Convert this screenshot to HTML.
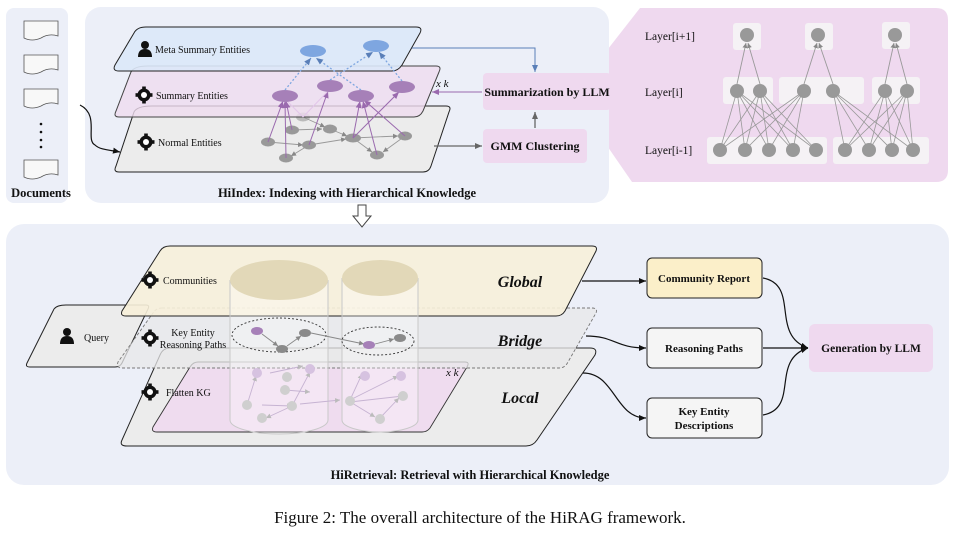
<!DOCTYPE html>
<html><head><meta charset="utf-8"><style>
body{margin:0;background:#fff;width:961px;height:535px;overflow:hidden}
svg{display:block}
text{font-family:"Liberation Serif",serif;fill:#111}
.b{font-weight:bold}
</style></head><body>
<svg width="961" height="535" viewBox="0 0 961 535" xmlns="http://www.w3.org/2000/svg">
<defs>
<marker id="ak" markerWidth="8" markerHeight="8" refX="7" refY="4" orient="auto" markerUnits="userSpaceOnUse"><path d="M0,1 L7,4 L0,7 z" fill="#111"/></marker>
<marker id="ag" markerWidth="8" markerHeight="8" refX="7" refY="4" orient="auto" markerUnits="userSpaceOnUse"><path d="M0,1 L7,4 L0,7 z" fill="#666"/></marker>
<marker id="ap" markerWidth="8" markerHeight="8" refX="7" refY="4" orient="auto" markerUnits="userSpaceOnUse"><path d="M0,1 L7,4 L0,7 z" fill="#9a6aae"/></marker>
<marker id="ab" markerWidth="8" markerHeight="8" refX="7" refY="4" orient="auto" markerUnits="userSpaceOnUse"><path d="M0,1 L7,4 L0,7 z" fill="#5a7fb8"/></marker>
<marker id="as" markerWidth="6" markerHeight="6" refX="5" refY="3" orient="auto" markerUnits="userSpaceOnUse"><path d="M0,0.5 L5,3 L0,5.5 z" fill="#888"/></marker>
<marker id="asl" markerWidth="6" markerHeight="6" refX="5" refY="3" orient="auto" markerUnits="userSpaceOnUse"><path d="M0,0.5 L5,3 L0,5.5 z" fill="#bbb"/></marker>
<g id="gear"><circle r="6.5" fill="#111"/><circle r="3" fill="#fff"/><g fill="#111"><rect x="-1.8" y="-8.5" width="3.6" height="3"/><rect x="-1.8" y="5.5" width="3.6" height="3"/><rect x="-8.5" y="-1.8" width="3" height="3.6"/><rect x="5.5" y="-1.8" width="3" height="3.6"/></g></g>
<g id="person"><circle cy="-4" r="4" fill="#111"/><path d="M-7,8 Q-7,0 0,0 Q7,0 7,8 z" fill="#111"/></g>
<g id="doc"><path d="M0,0 H34 V15 Q25,12 17,17 Q8,21 0,17 z" fill="#f8f8f8" stroke="#555" stroke-width="0.8"/></g>
</defs>

<!-- pink layer panel -->
<path d="M640,8 H936 Q948,8 948,20 V170 Q948,182 936,182 H632 L572,95 z" fill="#efd9ef"/>
<!-- Documents panel -->
<rect x="6" y="8" width="62" height="195" rx="8" fill="#eceff8"/>
<!-- HiIndex panel -->
<rect x="85" y="7" width="524" height="196" rx="16" fill="#eceff8"/>
<!-- bottom panel -->
<rect x="6" y="224" width="943" height="261" rx="18" fill="#eceff8"/>

<!-- documents -->
<use href="#doc" x="24" y="21"/><use href="#doc" x="24" y="55"/><use href="#doc" x="24" y="89"/><use href="#doc" x="24" y="160"/>
<g fill="#111"><circle cx="41" cy="124" r="1.3"/><circle cx="41" cy="132" r="1.3"/><circle cx="41" cy="140" r="1.3"/><circle cx="41" cy="147" r="1.3"/></g>
<text x="41" y="197" font-size="12.5" class="b" text-anchor="middle">Documents</text>
<path d="M80,105 C100,115 85,140 95,145 C100,150 110,150 120,152" fill="none" stroke="#111" stroke-width="1.2" marker-end="url(#ak)"/>

<!-- top layers -->
<path d="M152,106 H446 Q452,106 449,112 L431,166 Q429,172 423,172 H119 Q113,172 116,166 L134,112 Q137,106 152,106 z" fill="#ececec" stroke="#222" stroke-width="1"/>
<!-- normal edges gray -->
<g stroke="#999" stroke-width="0.9" fill="none" marker-end="url(#as)">
<line x1="268" y1="142" x2="303" y2="145"/><line x1="292" y1="130" x2="322" y2="129"/><line x1="303" y1="117" x2="325" y2="127"/>
<line x1="309" y1="145" x2="346" y2="139"/><line x1="309" y1="145" x2="291" y2="156"/><line x1="330" y1="129" x2="347" y2="136"/>
<line x1="353" y1="138" x2="398" y2="136"/><line x1="353" y1="138" x2="372" y2="152"/><line x1="405" y1="136" x2="383" y2="152"/>
</g>
<g fill="#999"><ellipse cx="268" cy="142" rx="7" ry="4.5"/><ellipse cx="286" cy="158" rx="7" ry="4.5"/><ellipse cx="292" cy="130" rx="7" ry="4.5"/><ellipse cx="309" cy="145" rx="7" ry="4.5"/><ellipse cx="330" cy="129" rx="7" ry="4.5"/><ellipse cx="353" cy="138" rx="8" ry="4.5"/><ellipse cx="377" cy="155" rx="7" ry="4.5"/><ellipse cx="405" cy="136" rx="7" ry="4.5"/><ellipse cx="303" cy="117" rx="7" ry="4.5" opacity="0.6"/></g>
<text x="158" y="146" font-size="10">Normal Entities</text>
<use href="#gear" x="146" y="142"/>

<path d="M148,66 H436 Q442,66 439,72 L423,111 Q420,117 414,117 H119 Q113,117 116,111 L131,72 Q134,66 148,66 z" fill="#efdcef" fill-opacity="0.8" stroke="#444" stroke-width="1"/>
<!-- purple edges -->
<g stroke="#9a6aae" stroke-width="1" fill="none" marker-end="url(#ap)" >
<line x1="268" y1="142" x2="283" y2="101"/><line x1="286" y1="158" x2="285" y2="101"/><line x1="292" y1="130" x2="286" y2="101"/>
<line x1="309" y1="145" x2="328" y2="91"/><line x1="353" y1="138" x2="360" y2="101"/><line x1="377" y1="155" x2="363" y2="101"/>
<line x1="353" y1="138" x2="399" y2="92"/><line x1="405" y1="136" x2="364" y2="100"/>
</g>
<g stroke="#e3c6ea" stroke-width="1" fill="none"><line x1="303" y1="117" x2="287" y2="101"/><line x1="303" y1="117" x2="328" y2="91"/></g>
<g fill="#a680b8"><ellipse cx="285" cy="96" rx="13" ry="6"/><ellipse cx="330" cy="86" rx="13" ry="6"/><ellipse cx="361" cy="96" rx="13" ry="6"/><ellipse cx="402" cy="87" rx="13" ry="6"/></g>
<text x="156" y="99" font-size="10">Summary Entities</text>
<use href="#gear" x="144" y="95"/>

<path d="M146,27 H416 Q423,27 420,33 L402,65 Q398,71 392,71 H119 Q112,71 115,65 L134,33 Q137,27 146,27 z" fill="#dce8f8" fill-opacity="0.9" stroke="#222" stroke-width="1"/>
<g stroke="#7ea6e0" stroke-width="1.3" stroke-dasharray="2,2" fill="none" marker-end="url(#ab)">
<line x1="285" y1="90" x2="311" y2="58"/><line x1="361" y1="90" x2="316" y2="58"/><line x1="330" y1="80" x2="373" y2="52"/><line x1="402" y1="81" x2="379" y2="52"/>
</g>
<g fill="#7ea6e0"><ellipse cx="313" cy="51" rx="13" ry="6"/><ellipse cx="376" cy="46" rx="13" ry="6"/></g>
<text x="155" y="53" font-size="10">Meta Summary Entities</text>
<use href="#person" x="145" y="49"/>

<!-- side boxes -->
<rect x="483" y="73" width="128" height="37" rx="4" fill="#efd9ef"/>
<text x="547" y="96" font-size="12" class="b" text-anchor="middle">Summarization by LLM</text>
<rect x="483" y="129" width="104" height="34" rx="4" fill="#efd9ef"/>
<text x="535" y="150" font-size="12" class="b" text-anchor="middle">GMM Clustering</text>
<path d="M412,48 H535 V72" fill="none" stroke="#5a7fb8" stroke-width="1" marker-end="url(#ab)"/>
<line x1="482" y1="92" x2="432" y2="92" stroke="#9a6aae" stroke-width="1" marker-end="url(#ap)"/>
<text x="436" y="87" font-size="11" font-style="italic" font-family="Liberation Sans,sans-serif">x k</text>
<line x1="434" y1="146" x2="482" y2="146" stroke="#666" stroke-width="1.3" marker-end="url(#ag)"/>
<line x1="535" y1="128" x2="535" y2="112" stroke="#666" stroke-width="1.3" marker-end="url(#ag)"/>
<text x="347" y="197" font-size="12.5" class="b" text-anchor="middle">HiIndex: Indexing with Hierarchical Knowledge</text>

<!-- hollow down arrow -->
<path d="M358,205 H366 V216 H371 L362,227 L353,216 H358 z" fill="#fff" stroke="#444" stroke-width="1"/>

<!-- layer panel content -->
<text x="645" y="40" font-size="11.5">Layer[i+1]</text>
<text x="645" y="96" font-size="11.5">Layer[i]</text>
<text x="645" y="154" font-size="11.5">Layer[i-1]</text>
<g fill="#f5f2f5"><rect x="733" y="23" width="28" height="27" rx="3"/><rect x="805" y="23" width="28" height="27" rx="3"/><rect x="882" y="22" width="28" height="27" rx="3"/>
<rect x="723" y="77" width="50" height="27" rx="3"/><rect x="779" y="77" width="85" height="27" rx="3"/><rect x="872" y="77" width="48" height="27" rx="3"/>
<rect x="707" y="137" width="120" height="27" rx="3"/><rect x="833" y="137" width="96" height="27" rx="3"/></g>
<g stroke="#999" stroke-width="0.9" marker-end="url(#as)">
<line x1="737" y1="84" x2="746" y2="43"/><line x1="760" y1="84" x2="748" y2="43"/>
<line x1="804" y1="84" x2="817" y2="43"/><line x1="833" y1="84" x2="819" y2="43"/>
<line x1="885" y1="84" x2="894" y2="43"/><line x1="907" y1="84" x2="896" y2="43"/>
</g>
<g stroke="#999" stroke-width="0.8">
<line x1="720" y1="150" x2="737" y2="91"/><line x1="745" y1="150" x2="737" y2="91"/><line x1="769" y1="150" x2="737" y2="91"/><line x1="793" y1="150" x2="737" y2="91"/><line x1="816" y1="150" x2="737" y2="91"/>
<line x1="720" y1="150" x2="760" y2="91"/><line x1="745" y1="150" x2="760" y2="91"/><line x1="769" y1="150" x2="760" y2="91"/><line x1="793" y1="150" x2="760" y2="91"/><line x1="816" y1="150" x2="760" y2="91"/>
<line x1="720" y1="150" x2="804" y2="91"/><line x1="745" y1="150" x2="804" y2="91"/><line x1="769" y1="150" x2="804" y2="91"/><line x1="793" y1="150" x2="804" y2="91"/>
<line x1="845" y1="150" x2="833" y2="91"/><line x1="869" y1="150" x2="833" y2="91"/><line x1="892" y1="150" x2="833" y2="91"/><line x1="913" y1="150" x2="833" y2="91"/>
<line x1="845" y1="150" x2="885" y2="91"/><line x1="869" y1="150" x2="885" y2="91"/><line x1="892" y1="150" x2="885" y2="91"/><line x1="913" y1="150" x2="885" y2="91"/>
<line x1="845" y1="150" x2="907" y2="91"/><line x1="869" y1="150" x2="907" y2="91"/><line x1="892" y1="150" x2="907" y2="91"/><line x1="913" y1="150" x2="907" y2="91"/>
</g>
<g fill="#999">
<circle cx="747" cy="35" r="7"/><circle cx="818" cy="35" r="7"/><circle cx="895" cy="35" r="7"/>
<circle cx="737" cy="91" r="7"/><circle cx="760" cy="91" r="7"/><circle cx="804" cy="91" r="7"/><circle cx="833" cy="91" r="7"/><circle cx="885" cy="91" r="7"/><circle cx="907" cy="91" r="7"/>
<circle cx="720" cy="150" r="7"/><circle cx="745" cy="150" r="7"/><circle cx="769" cy="150" r="7"/><circle cx="793" cy="150" r="7"/><circle cx="816" cy="150" r="7"/><circle cx="845" cy="150" r="7"/><circle cx="869" cy="150" r="7"/><circle cx="892" cy="150" r="7"/><circle cx="913" cy="150" r="7"/>
</g>

<!-- ===== bottom ===== -->
<!-- Query -->
<path d="M66,305 H146 Q150,305 148,309 L122,363 Q120,367 115,367 H30 Q25,367 27,363 L54,309 Q57,305 66,305 z" fill="#ececec" stroke="#222" stroke-width="1"/>
<use href="#person" x="67" y="336"/>
<text x="84" y="341" font-size="10">Query</text>

<!-- Local -->
<path d="M170,348 H590 Q598,348 595,355 L537,440 Q533,446 526,446 H127 Q119,446 122,440 L160,355 Q163,348 170,348 z" fill="#ececec" stroke="#222" stroke-width="1"/>
<path d="M198,362 H465 Q470,362 467,367 L430,428 Q427,432 422,432 H157 Q151,432 153,427 L190,367 Q193,362 198,362 z" fill="#efdcef" stroke="#333" stroke-width="0.9"/>
<text x="446" y="376" font-size="11" font-style="italic" font-family="Liberation Sans,sans-serif">x k</text>
<use href="#gear" x="150" y="392"/>
<text x="166" y="396" font-size="10">Flatten KG</text>
<text x="520" y="403" font-size="16" class="b" font-style="italic" text-anchor="middle">Local</text>

<!-- Bridge -->
<path d="M162,308 H592 Q598,308 596,313 L568,362 Q565,368 559,368 H122 Q116,368 118,362 L153,313 Q156,308 162,308 z" fill="#e8e8ea" fill-opacity="0.75" stroke="#777" stroke-width="0.9" stroke-dasharray="3,2"/>
<use href="#gear" x="150" y="338"/>
<text x="193" y="336" font-size="10" text-anchor="middle">Key Entity</text>
<text x="193" y="348" font-size="10" text-anchor="middle">Reasoning Paths</text>
<text x="520" y="346" font-size="16" class="b" font-style="italic" text-anchor="middle">Bridge</text>

<!-- Global -->
<path d="M170,246 H592 Q598,246 596,251 L565,311 Q562,316 556,316 H126 Q120,316 122,311 L160,251 Q163,246 170,246 z" fill="#f7efd9" fill-opacity="0.9" stroke="#222" stroke-width="1"/>
<use href="#gear" x="150" y="280"/>
<text x="163" y="284" font-size="10">Communities</text>
<text x="520" y="287" font-size="16" class="b" font-style="italic" text-anchor="middle">Global</text>

<!-- cylinders -->
<path d="M230,280 V420 A49,14 0 0 0 328,420 V280" fill="#fff" fill-opacity="0.3" stroke="#c8c8c8" stroke-width="1"/>
<path d="M342,278 V420 A38,12 0 0 0 418,420 V278" fill="#fff" fill-opacity="0.3" stroke="#c8c8c8" stroke-width="1"/>
<ellipse cx="279" cy="280" rx="49" ry="20" fill="#e2d8b8"/>
<ellipse cx="380" cy="278" rx="38" ry="18" fill="#e2d8b8"/>
<!-- local graph faded -->
<g stroke="#c6b3d2" stroke-width="0.9" marker-end="url(#asl)">
<line x1="247" y1="405" x2="256" y2="376"/><line x1="262" y1="405" x2="292" y2="406"/><line x1="292" y1="406" x2="266" y2="418"/>
<line x1="285" y1="390" x2="310" y2="392"/><line x1="270" y1="373" x2="303" y2="366"/><line x1="292" y1="406" x2="310" y2="372"/>
<line x1="300" y1="404" x2="340" y2="400"/><line x1="350" y1="402" x2="403" y2="396"/><line x1="350" y1="400" x2="362" y2="374"/><line x1="350" y1="400" x2="398" y2="376"/><line x1="380" y1="418" x2="399" y2="398"/><line x1="352" y1="403" x2="375" y2="417"/>
</g>
<g fill="#cfcfcf"><circle cx="247" cy="405" r="5"/><circle cx="292" cy="406" r="5"/><circle cx="262" cy="418" r="5"/><circle cx="285" cy="390" r="5"/><circle cx="287" cy="377" r="5"/><circle cx="350" cy="401" r="5"/><circle cx="403" cy="396" r="5"/><circle cx="380" cy="419" r="5"/></g>
<g fill="#d6c2e0"><circle cx="257" cy="373" r="5"/><circle cx="310" cy="369" r="5"/><circle cx="365" cy="376" r="5"/><circle cx="401" cy="376" r="5"/></g>
<!-- bridge paths -->
<ellipse cx="279" cy="335" rx="47" ry="17" fill="none" stroke="#333" stroke-dasharray="2,2" stroke-width="0.9"/>
<ellipse cx="378" cy="341" rx="36" ry="14" fill="none" stroke="#333" stroke-dasharray="2,2" stroke-width="0.9"/>
<g stroke="#888" stroke-width="0.9" marker-end="url(#as)">
<line x1="262" y1="334" x2="278" y2="346"/><line x1="287" y1="346" x2="301" y2="336"/><line x1="311" y1="333" x2="364" y2="344"/><line x1="375" y1="344" x2="394" y2="339"/>
</g>
<ellipse cx="257" cy="331" rx="6" ry="4" fill="#a680b8"/><ellipse cx="282" cy="349" rx="6" ry="4" fill="#8a8a8a"/><ellipse cx="305" cy="333" rx="6" ry="4" fill="#8a8a8a"/><ellipse cx="369" cy="345" rx="6" ry="4" fill="#a680b8"/><ellipse cx="400" cy="338" rx="6" ry="4" fill="#8a8a8a"/>

<!-- right boxes -->
<rect x="647" y="258" width="115" height="40" rx="5" fill="#fbefc9" stroke="#222" stroke-width="1"/>
<text x="704" y="282" font-size="11" class="b" text-anchor="middle">Community Report</text>
<rect x="647" y="328" width="115" height="40" rx="5" fill="#f5f5f5" stroke="#222" stroke-width="1"/>
<text x="704" y="352" font-size="11" class="b" text-anchor="middle">Reasoning Paths</text>
<rect x="647" y="398" width="115" height="40" rx="5" fill="#f5f5f5" stroke="#222" stroke-width="1"/>
<text x="704" y="415" font-size="11" class="b" text-anchor="middle">Key Entity</text>
<text x="704" y="429" font-size="11" class="b" text-anchor="middle">Descriptions</text>
<rect x="809" y="324" width="124" height="48" rx="6" fill="#efd9ef"/>
<text x="871" y="352" font-size="11.5" class="b" text-anchor="middle">Generation by LLM</text>

<g fill="none" stroke="#111" stroke-width="1.2" marker-end="url(#ak)">
<line x1="582" y1="281" x2="646" y2="281"/>
<path d="M586,336 C615,336 615,348 646,348"/>
<path d="M583,373 C615,373 615,418 646,418"/>
<path d="M763,278 C800,285 770,335 808,348"/>
<line x1="763" y1="348" x2="808" y2="348"/>
<path d="M763,415 C800,408 770,360 808,348"/>
</g>
<text x="470" y="479" font-size="12.5" class="b" text-anchor="middle">HiRetrieval: Retrieval with Hierarchical Knowledge</text>

<text x="480" y="523" font-size="17" text-anchor="middle">Figure 2: The overall architecture of the HiRAG framework.</text>
</svg>
</body></html>
